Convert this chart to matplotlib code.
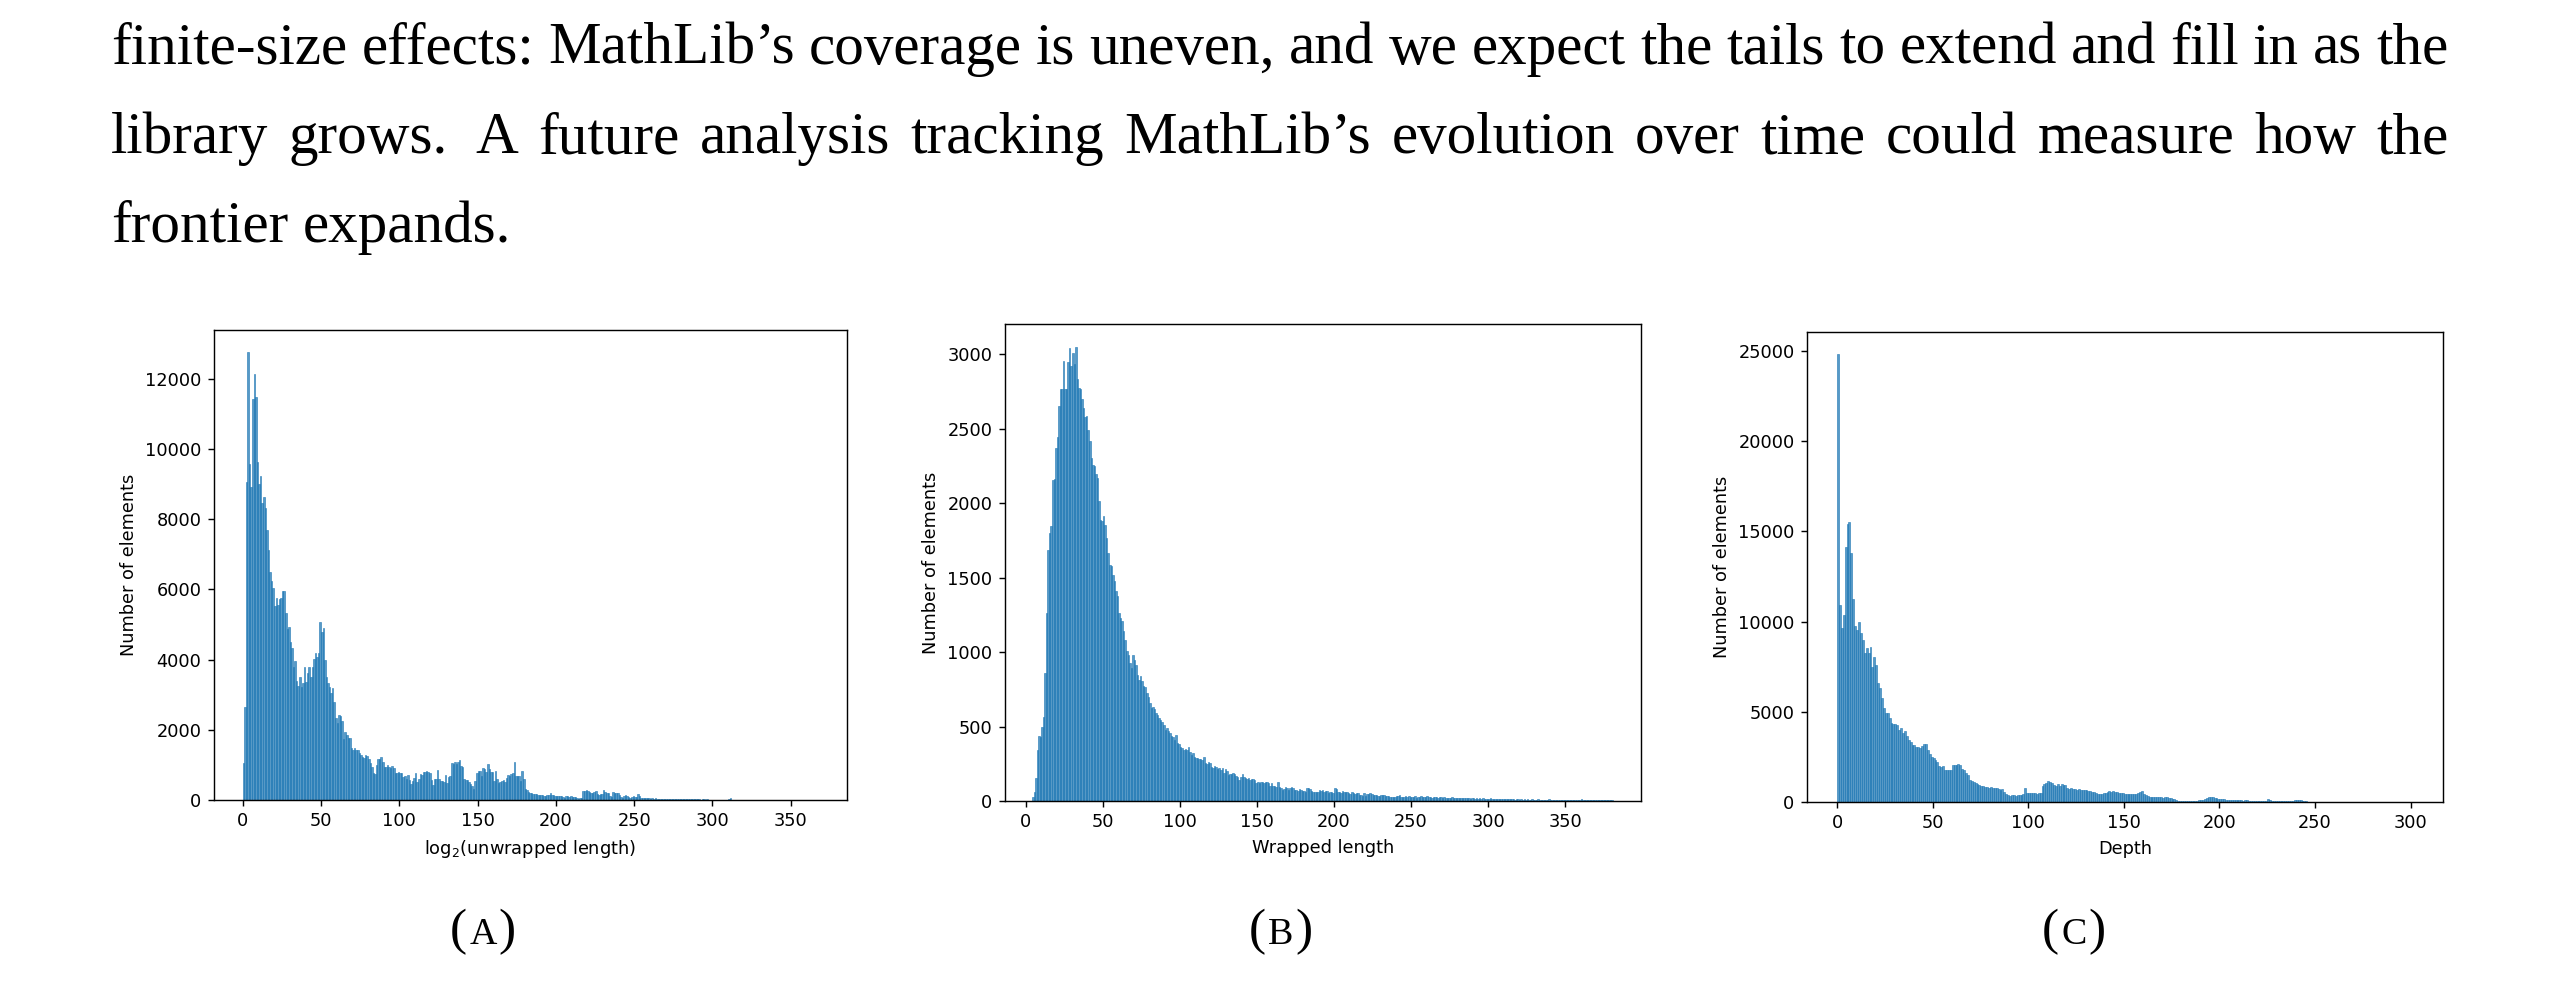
import numpy as np
import matplotlib
matplotlib.use("Agg")
import matplotlib.pyplot as plt

W, H = 2560, 1000
S = 1.28  # panels were saved with matplotlib defaults, then scaled onto the page

# counts per unit-wide bin
unwrapped_start = 0
unwrapped_counts = [
    1064, 2641, 9072, 12758, 9576, 8930, 11428, 12131, 11476, 9642,
    8996, 9243, 8474, 8645, 8312, 7695, 7125, 6488, 6251, 6032,
    5538, 5747, 5557, 5719, 5747, 5966, 5966, 5320, 4864, 4921,
    4512, 4322, 3800, 3961, 3401, 3249, 3515, 3230, 3325, 3800,
    3372, 3610, 3800, 3515, 3800, 4009, 4180, 4085, 4180, 5082,
    4797, 4892, 3990, 3515, 3325, 3230, 3040, 3182, 2802, 2327,
    2185, 2422, 2394, 2261, 1729, 1947, 1862, 1757, 1776, 1472,
    1425, 1472, 1425, 1425, 1330, 1282, 1235, 1187, 1282, 1254,
    1159, 1045, 950, 779, 741, 997, 1159, 1159, 1235, 1092,
    950, 950, 997, 950, 902, 969, 902, 760, 760, 807,
    760, 779, 665, 684, 589, 712, 570, 456, 541, 617,
    760, 500,
    600, 740, 710, 785, 785, 815, 785, 760, 570, 435, 600, 600, 860, 600, 550, 550,
    500, 710, 475, 665, 690, 1050, 1023, 1070, 1023, 1070, 1146, 975, 947, 600, 578, 578,
    520, 455, 407, 313, 550, 760, 833, 815, 690, 910, 880, 785, 1023, 880, 785, 785,
    550, 833, 600, 475, 520, 550, 570, 500, 625, 710, 690, 740, 760, 1070, 690, 690,
    672, 530, 833, 600, 313, 284, 237, 199, 190, 170, 170, 161, 142, 142, 142, 142,
    123, 123, 142, 142, 199, 151, 133, 114, 123, 123, 123, 114, 76, 57, 114, 114,
    85, 104, 95, 76, 85, 47, 38, 47, 57, 265, 246, 284, 265, 227, 199, 199,
    218, 265, 170, 151, 161, 180, 275, 227, 190, 199, 114, 85, 237, 208, 199, 199,
    142, 76, 57, 123, 133, 123, 95, 66, 95, 104, 76, 95, 170, 123,
    55, 48, 60, 52, 45, 50, 42, 47, 38, 44,
    35, 40, 32, 30, 36, 28, 31, 27, 30, 25,
    28, 24, 26, 22, 25, 20, 23, 21, 19, 22,
    18, 20, 17, 19, 16, 18, 15, 17, 14, 16,
    15, 13, 16, 12, 14, 11, 13, 12, 10, 12,
    11, 9, 12, 10, 14, 11, 18, 45, 12, 9,
    8, 10, 7, 8, 6, 5, 6, 4, 5, 4,
    3, 4, 3, 3, 2, 3, 2, 2, 3, 2,
    2, 1, 2, 2, 1, 1, 2, 1, 1, 1,
    1, 1, 0, 1, 1, 0, 1, 0, 1, 0,
    1, 0, 0, 1, 0, 0, 1, 0, 0, 0,
    0, 0, 1,
]

wrapped_start = 4
wrapped_counts = [
    25, 63, 152, 343, 437, 432, 500, 567, 858, 1261,
    1687, 1799, 1844, 2157, 2162, 2370, 2444, 2654, 2762, 2766,
    2952, 2766, 2762, 2946, 3042, 2919, 3008, 2930, 3049, 2829,
    2773, 2762, 2695, 2639, 2578, 2583, 2493, 2415, 2303, 2258,
    2247, 2197, 2168, 2012, 1888, 1882, 1911, 1855, 1765, 1664,
    1586, 1575, 1519, 1474, 1407, 1373, 1261, 1228, 1205, 1138,
    1082, 1004, 981, 925, 892, 981, 948, 914, 847, 813,
    840, 806, 773, 768, 724, 701, 656, 623, 634, 616,
    589, 578, 556, 544, 533, 511, 477, 488, 473, 455,
    437, 432, 410, 443, 388, 383, 365, 354, 343, 347,
    343, 365, 332, 309, 320, 298, 287, 291, 280, 280,
    276, 298, 253, 249, 264, 253,
    231, 220, 235, 226, 217, 220, 208, 220, 186, 213, 204, 175, 181, 181,
    186, 181, 170, 164, 141, 164, 179, 164, 157, 146, 157, 141, 148, 148,
    141, 123, 130, 123, 125, 128, 123, 130, 130, 119, 103, 119, 101, 101,
    92, 130, 96, 85, 74, 78, 96, 85, 74, 85, 92, 85, 74, 74,
    69, 78, 74, 67, 69, 63, 85, 90, 81, 65, 60, 63, 60, 60,
    74, 67, 72, 63, 67, 69, 56, 63, 58, 56, 90, 78, 63, 63,
    52, 67, 63, 58, 60, 52, 47, 58, 56, 47, 52, 56, 40, 40,
    36, 52, 34, 45, 49, 52, 47, 43, 38, 40, 36, 34, 38, 38,
    40, 34, 31, 31, 29, 27, 29, 25, 34, 31, 38, 25, 29, 29,
    34, 29, 31, 27, 29, 25, 34, 20, 25,
    27, 31, 24, 29, 26, 33, 25, 28, 23, 27,
    24, 26, 22, 25, 28, 21, 24, 22, 20, 23,
    21, 24, 19, 22, 20, 18, 21, 19, 23, 18,
    20, 17, 19, 16, 18, 20, 15, 17, 16, 18,
    15, 17, 14, 16, 13, 15, 18, 14, 16, 13,
    15, 12, 14, 16, 12, 13, 11, 14, 12, 13,
    11, 13, 10, 12, 11, 10, 12, 9, 11, 10,
    12, 9, 10, 11, 9, 10, 8, 11, 9, 10,
    8, 9, 10, 8, 12, 9, 8, 10, 7, 9,
    8, 7, 9, 8, 10, 7, 8, 9, 7, 8,
    7, 8, 6, 9, 7, 13, 8, 7, 9, 6,
    8, 7, 10, 6, 8, 7, 9, 6, 7, 8,
    6, 7, 5, 8, 6, 4,
]

depth_start = 0
depth_counts = [
    24817, 10926, 9630, 10370, 14112, 15427, 15520, 13797, 11242, 9778,
    9538, 9964, 9353, 8982, 8278, 8519, 8241, 8612, 7501, 8056,
    7593, 6575, 6334, 5778, 5186, 4945, 4908, 4630, 4389, 4352,
    4315, 4260, 4019, 4130, 3834, 3945, 3648, 3463, 3334, 3148,
    3148, 3056, 3056, 3000, 3093, 3204, 3241, 2871, 2685, 2500,
    2463, 2315, 2222, 2000, 1944, 2000, 1796, 1759, 1759, 1759,
    2074, 2074, 2037, 2130, 2037, 1852, 1759, 1611, 1482, 1241,
    1167, 1111, 1074, 1019, 926,
    900, 880, 850, 820, 800, 830, 780, 800, 760, 720,
    650, 700, 560, 420, 380, 360, 370, 390, 360, 380,
    400, 390, 450, 800, 520, 500, 520, 480, 500, 470,
    490, 480, 900, 1000, 1050, 1150, 1120, 1050, 950, 900,
    980, 870, 1000, 950, 930, 780, 720, 750, 700, 720,
    680, 700, 650, 660, 680, 640, 620, 600, 560, 540,
    480, 460, 450, 470, 490, 500, 560, 620, 560, 590,
    560, 550, 520, 500, 480, 460, 470, 450, 430, 440,
    420, 470, 520, 580, 600, 470, 380, 320, 290, 280,
    270, 260, 270, 250, 260, 240, 250, 260, 230, 200,
    190, 150, 110, 80, 70, 60, 55, 50, 50, 55,
    60, 65, 70, 80, 90, 100, 130, 170, 220, 260,
    280, 250, 230, 210, 190, 180, 170, 150, 130, 110,
    100, 95, 90, 85, 90, 95, 85, 80, 90, 85,
    75, 70, 65, 70, 60, 65, 55, 60, 50, 55,
    160, 90, 70, 80, 60, 55, 50, 45, 40, 45,
    40, 45, 50, 70, 110, 120, 110, 90, 70, 40,
    30, 20, 15, 12, 10, 9, 8, 8, 7, 6,
    6, 5, 6, 5, 4, 5, 4, 4, 3, 4,
    3, 3, 4, 3, 2, 3, 3, 2, 2, 3,
    2, 2, 3, 2, 2, 1, 2, 1, 2, 1,
    1, 2, 1, 1, 1, 1, 0, 1, 1, 0,
    1, 0, 1, 0, 0, 0, 1,
]

x_labels = ["log$_2$(unwrapped length)", "Wrapped length", "Depth"]
y_label = "Number of elements"
captions = ["A", "B", "C"]
body_lines = [
    "finite-size effects: MathLib\u2019s coverage is uneven, and we expect the tails to extend and fill in as the",
    "library grows.  A future analysis tracking MathLib\u2019s evolution over time could measure how the",
    "frontier expands.",
]

plt.rcParams.update({
    "font.size": 10 * S,
    "axes.linewidth": 0.8 * S,
    "xtick.major.size": 3.5 * S, "ytick.major.size": 3.5 * S,
    "xtick.major.width": 0.8 * S, "ytick.major.width": 0.8 * S,
    "xtick.major.pad": 3.5 * S, "ytick.major.pad": 3.5 * S,
    "axes.labelpad": 4.0 * S,
})

fig = plt.figure(figsize=(W / 100, H / 100), dpi=100)

# axes boxes in pixels: left, top, right, bottom
boxes = [(214, 330, 847, 800), (1005, 324, 1641, 801), (1807, 332, 2443, 802)]
xlims = [(-18.3, 385.9), (-13.5, 399.2), (-15.7, 317.0)]
series = [(unwrapped_start, unwrapped_counts), (wrapped_start, wrapped_counts),
          (depth_start, depth_counts)]

blue = "#1f77b4"
for (l, t, r, b), lim, (start, counts), xl in zip(boxes, xlims, series, x_labels):
    ax = fig.add_axes([l / W, 1 - b / H, (r - l) / W, (b - t) / H])
    edges = start + np.arange(len(counts) + 1)
    ax.bar(edges[:-1], counts, width=1, align="edge",
           facecolor=matplotlib.colors.to_rgba(blue, 0.75),
           edgecolor=blue, linewidth=0.4)
    ax.set_xlim(*lim)
    ax.set_xlabel(xl)
    ax.set_ylabel(y_label)

# body text, justified like the LaTeX page
rend = fig.canvas.get_renderer()
BODY = 42.6
X0, X1 = 111, 2449
baselines = [64, 153, 242]


def put_line(text, y_px, justify):
    # a double space marks the end of a sentence: give that gap a bit more room
    chunks = text.split(" ")
    words, extra = [], []
    for c in chunks:
        if c == "":
            extra[-1] = 1
            continue
        words.append(c)
        extra.append(0)
    arts = [fig.text(0, 1 - y_px / H, w, fontsize=BODY, family="Liberation Serif",
                     va="baseline", ha="left") for w in words]
    widths = [a.get_window_extent(rend).width for a in arts]
    bonus = 0.12 * BODY * 100 / 72
    if justify:
        gap = (X1 - X0 - sum(widths) - bonus * sum(extra[:-1])) / (len(words) - 1)
    else:
        gap = 0.25 * BODY * 100 / 72
    x = X0
    for a, w, e in zip(arts, widths, extra):
        a.set_x(x / W)
        x += w + gap + bonus * e


for i, line in enumerate(body_lines):
    put_line(line, baselines[i], i < len(body_lines) - 1)

# sub-captions in small caps: (A) (B) (C)
CAP = 37
cap_x = [483, 1281, 2074]
cap_base = 944


def put_caption(cx, letter):
    parts = [("(", CAP), (letter, CAP * 0.74), (")", CAP)]
    arts = [fig.text(0, 1 - cap_base / H, s, fontsize=sz, family="Liberation Serif",
                     va="baseline", ha="left") for s, sz in parts]
    widths = [a.get_window_extent(rend).width for a in arts]
    pad = 2
    total = sum(widths) + 2 * pad
    x = cx - total / 2
    for a, w in zip(arts, widths):
        a.set_x(x / W)
        x += w + pad


for cx, letter in zip(cap_x, captions):
    put_caption(cx, letter)

fig.savefig("out.png", dpi=100)
